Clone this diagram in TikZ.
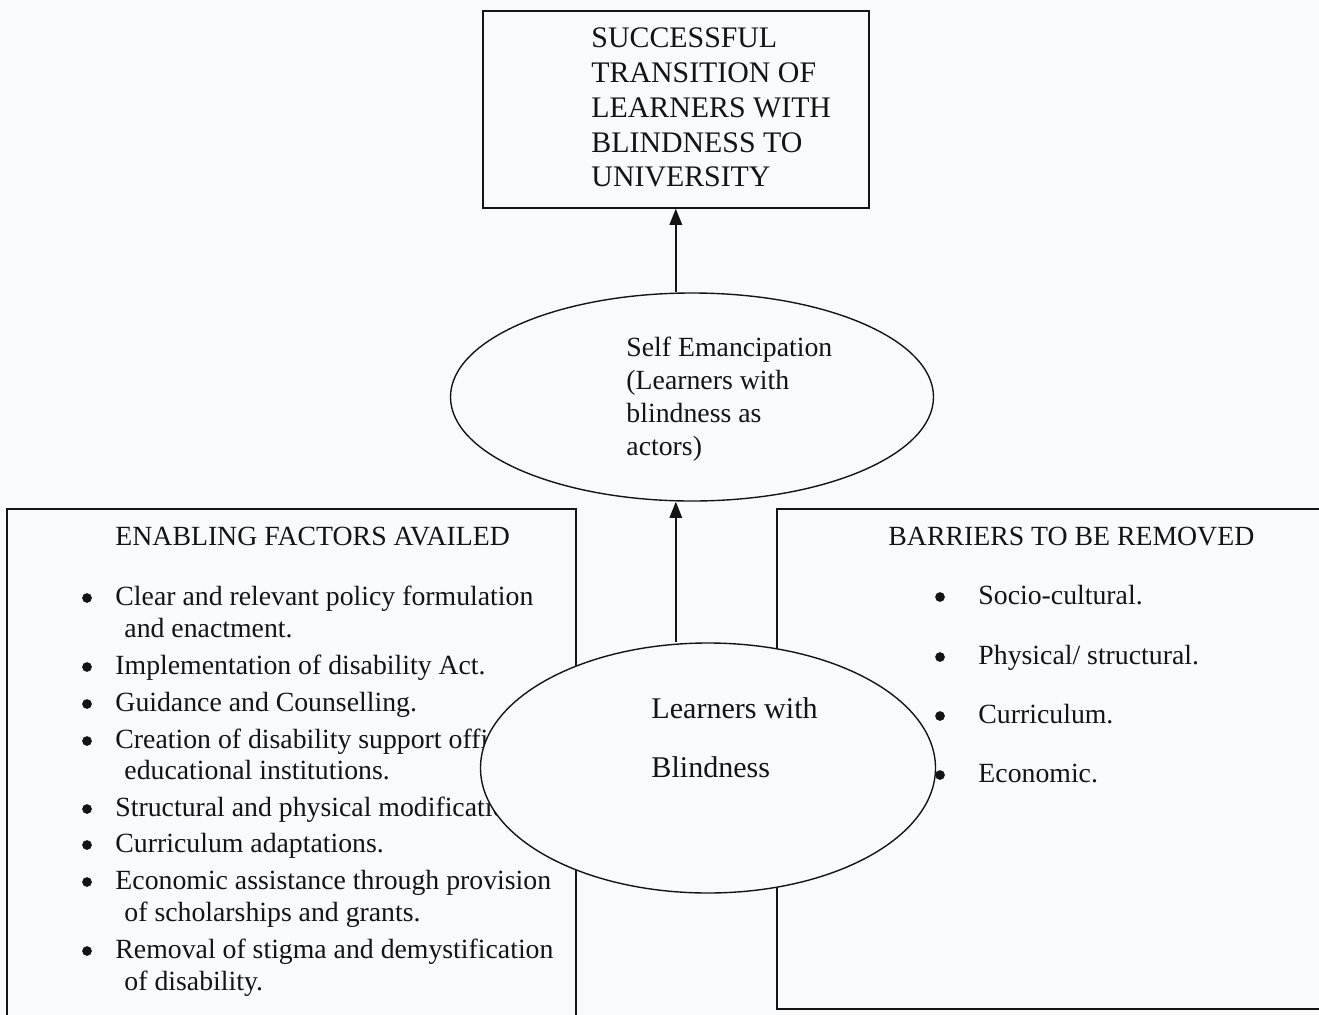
\documentclass[tikz,border=0pt]{standalone}
\usepackage{fontspec}
\setmainfont{Liberation Serif}
\usetikzlibrary{calc,arrows.meta,shapes.geometric}

\newcommand{\pxu}{0.4322pt}
\definecolor{paper}{RGB}{248,250,252}
\definecolor{ink}{RGB}{20,20,20}

\begin{document}
\begin{tikzpicture}[x=\pxu,y=-\pxu,
  frame/.style={draw=ink,line width=0.7pt,rectangle,inner sep=0pt,anchor=north west},
  oval/.style={draw=ink,line width=0.6pt,ellipse,fill=paper,inner sep=0pt},
  entry/.style={inner sep=0pt,anchor=base west,text=ink,font=\fontsize{12}{14}\selectfont},
  block/.style={inner sep=0pt,anchor=north west,align=left,text=ink},
  dot/.style={circle,fill=ink,inner sep=0pt,minimum size=4.2pt},
  lift/.style={draw=ink,line width=0.7pt,-{Triangle[width=5.4pt,length=7pt]}}]

\clip (0,0) rectangle (1319,1015);
\fill[paper] (0,0) rectangle (1319,1015);

% goal at the top
\node[frame,minimum width=386*\pxu,minimum height=197*\pxu] (goal) at (482,10) {};
\node[block,font=\fontsize{12.9}{15.1}\selectfont] (goaltext) at (591,27) {SUCCESSFUL\\TRANSITION OF\\LEARNERS WITH\\BLINDNESS TO\\UNIVERSITY};

% self emancipation
\node[oval,minimum width=483*\pxu,minimum height=208*\pxu] (self) at (692,397) {};
\node[block,font=\fontsize{12}{14.4}\selectfont] (selftext) at (626,336) {Self Emancipation\\(Learners with\\blindness as\\actors)};

% the two panels
\node[frame,minimum width=569*\pxu,minimum height=540*\pxu] (enable) at (6,508) {};
\node[frame,minimum width=560*\pxu,minimum height=500*\pxu] (barrier) at (776,508) {};

\node[entry] (entitle) at (115,545) {ENABLING FACTORS AVAILED};
\node[entry] (en1) at (115,605) {Clear and relevant policy formulation};
\node[entry] (en1b) at (124,637) {and enactment.};
\node[entry] (en2) at (115,674) {Implementation of disability Act.};
\node[entry] (en3) at (115,711) {Guidance and Counselling.};
\node[entry] (en4) at (115,748) {Creation of disability support offices in};
\node[entry] (en4b) at (124,779) {educational institutions.};
\node[entry] (en5) at (115,816) {Structural and physical modifications.};
\node[entry] (en6) at (115,852) {Curriculum adaptations.};
\node[entry] (en7) at (115,889) {Economic assistance through provision};
\node[entry] (en7b) at (124,921) {of scholarships and grants.};
\node[entry] (en8) at (115,958) {Removal of stigma and demystification};
\node[entry] (en8b) at (124,990) {of disability.};

\node[dot] (den1) at ($(en1.base west)+(-28,-7)$) {};
\node[dot] (den2) at ($(en2.base west)+(-28,-7)$) {};
\node[dot] (den3) at ($(en3.base west)+(-28,-7)$) {};
\node[dot] (den4) at ($(en4.base west)+(-28,-7)$) {};
\node[dot] (den5) at ($(en5.base west)+(-28,-7)$) {};
\node[dot] (den6) at ($(en6.base west)+(-28,-7)$) {};
\node[dot] (den7) at ($(en7.base west)+(-28,-7)$) {};
\node[dot] (den8) at ($(en8.base west)+(-28,-7)$) {};

% learners with blindness
\node[oval,minimum width=455*\pxu,minimum height=250*\pxu] (learner) at (708,768) {};
\node[block,font=\fontsize{13}{25.7}\selectfont] (learnertext) at (651,697) {Learners with\\Blindness};

\node[entry] (batitle) at (888,545) {BARRIERS TO BE REMOVED};
\node[entry] (ba1) at (978,604) {Socio-cultural.};
\node[entry] (ba2) at (978,664) {Physical/ structural.};
\node[entry] (ba3) at (978,723) {Curriculum.};
\node[entry] (ba4) at (978,782) {Economic.};

\node[dot] (dba1) at ($(ba1.base west)+(-38,-7)$) {};
\node[dot] (dba2) at ($(ba2.base west)+(-38,-7)$) {};
\node[dot] (dba3) at ($(ba3.base west)+(-38,-7)$) {};
\node[dot] (dba4) at ($(ba4.base west)+(-38,-7)$) {};

% arrows
\draw[lift] (goal.south |- self.north) -- (goal.south);
\draw[lift] (goal.south |- learner.north) -- (goal.south |- self.south);

\end{tikzpicture}
\end{document}
